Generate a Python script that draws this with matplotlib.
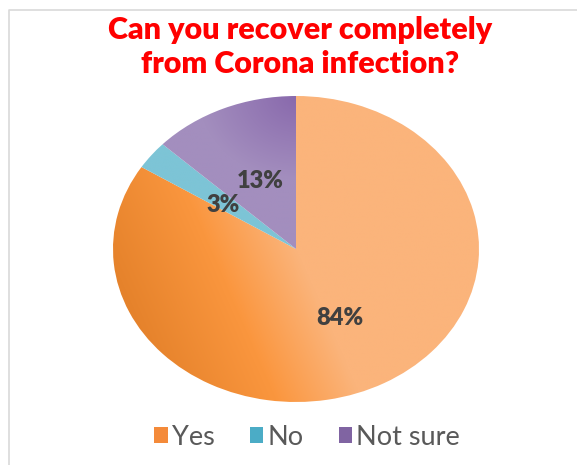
import numpy as np
import matplotlib
matplotlib.use("Agg")
import matplotlib.pyplot as plt
from matplotlib.colors import LinearSegmentedColormap, to_rgb
from matplotlib.patches import Patch
from matplotlib.lines import Line2D

title = "Can you recover completely\nfrom Corona infection?"
labels = ["Yes", "No", "Not sure"]
values = [84, 3, 13]
pct_text = ["84%", "3%", "13%"]
legend_colors = ["#F48A3A", "#4BACC6", "#8064A2"]

W, H = 577, 465
fig = plt.figure(figsize=(W / 100, H / 100), dpi=100)
fig.patch.set_facecolor("white")

# light chart frame, only top and left edges are visible
fig.lines.append(Line2D([8.5 / W, 8.5 / W, 1.0], [0.0, 1 - 10.5 / H, 1 - 10.5 / H],
                        transform=fig.transFigure, color="#D9D9D9", linewidth=1.2))

# pie area (stretched horizontally like the original)
cx, cy, rx, ry = 296, 249, 183, 153
ax = fig.add_axes([(cx - rx) / W, (H - cy - ry) / H, 2 * rx / W, 2 * ry / H])

wedges, texts = ax.pie(values, startangle=90, counterclock=False, radius=1,
                       wedgeprops=dict(linewidth=0))

yy, xx = np.mgrid[1.05:-1.05:400j, -1.05:1.05:400j]

# Yes: linear gradient, dark at lower left, light at right
th = np.deg2rad(20)
t_yes = xx * np.cos(th) + yy * np.sin(th)
cm_yes = LinearSegmentedColormap.from_list(
    "yes", [(0, "#E5822B"), (0.28, "#FA963E"), (0.5, "#FBB47B"), (1, "#FBB47B")])
img_yes = cm_yes(np.clip((t_yes + 1) / 2, 0, 1))

# No: flat teal
img_no = np.zeros(xx.shape + (4,))
img_no[..., :3] = to_rgb("#7DC4D6")
img_no[..., 3] = 1

# Not sure: dark purple near the top of the split line, lighter elsewhere
d = np.sqrt((xx - 0.02) ** 2 + (yy - 1.0) ** 2)
cm_ns = LinearSegmentedColormap.from_list("ns", ["#8868AC", "#A38EBE"])
img_ns = cm_ns(np.clip(d / 0.55, 0, 1))

for w, img in zip(wedges, [img_yes, img_no, img_ns]):
    w.set_facecolor("none")
    im = ax.imshow(img, extent=[-1.05, 1.05, -1.05, 1.05], interpolation="bilinear", zorder=1)
    im.set_clip_path(w)

ax.set_aspect("auto")
ax.set_xlim(-1, 1)
ax.set_ylim(-1, 1)
ax.axis("off")

# data labels (pixel positions of the original)
label_pos = [(340, 318), (223, 205), (260, 181)]
for (px, py), s in zip(label_pos, pct_text):
    fig.text(px / W, 1 - py / H, s, ha="center", va="center", fontsize=17,
             fontweight="heavy", color="#404040", family=["Lato", "DejaVu Sans"])

fig.text(300 / W, 1 - 47 / H, title, ha="center", va="center", fontsize=22,
         fontweight="heavy", color="#FF0000", family=["Lato", "DejaVu Sans"], linespacing=1.22)

handles = [Patch(facecolor=c, edgecolor="none") for c in legend_colors]
leg = fig.legend(handles, labels, loc="center", bbox_to_anchor=(307 / W, 1 - 437 / H), ncol=3,
                 frameon=False, handlelength=0.5, handleheight=0.5,
                 handletextpad=0.15, columnspacing=1.3, labelcolor="#595959",
                 prop=dict(family=["Lato", "DejaVu Sans"], size=19.5))

fig.savefig("out.png", dpi=100, facecolor="white")
